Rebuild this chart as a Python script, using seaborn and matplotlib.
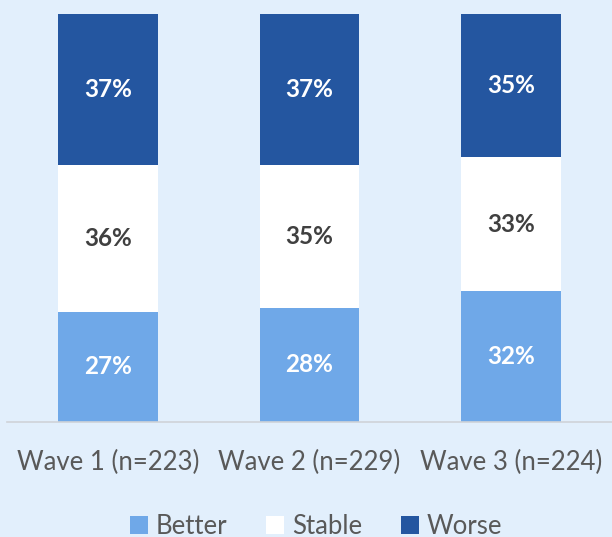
import matplotlib
matplotlib.use("Agg")
import matplotlib.pyplot as plt
import seaborn as sns
import numpy as np
import pandas as pd
from matplotlib.patches import Patch

categories = ["Wave 1 (n=223)", "Wave 2 (n=229)", "Wave 3 (n=224)"]
better = [27, 28, 32]
stable = [36, 35, 33]
worse = [37, 37, 35]
series_names = ["Better", "Stable", "Worse"]

BG = "#e2effc"
C_BETTER = "#6fa8e8"
C_STABLE = "#ffffff"
C_WORSE = "#2456a0"

sns.set_style("white")
plt.rcParams["font.family"] = ["Lato", "DejaVu Sans"]

fig = plt.figure(figsize=(6.12, 5.37), dpi=100, facecolor=BG)
ax = fig.add_axes([7/612, 115/537, 605/612, 408/537])
ax.set_facecolor(BG)

b = np.array(better)
s = np.array(stable)
w = np.array(worse)
df = pd.DataFrame({"cat": categories, "b": b, "bs": b + s, "bsw": b + s + w})

sns.barplot(data=df, x="cat", y="bsw", color=C_WORSE, width=0.495, saturation=1, ax=ax)
sns.barplot(data=df, x="cat", y="bs", color=C_STABLE, width=0.495, saturation=1, ax=ax)
sns.barplot(data=df, x="cat", y="b", color=C_BETTER, width=0.495, saturation=1, ax=ax)
for p in ax.patches:
    p.set_linewidth(0)

for i in range(len(categories)):
    ax.text(i, b[i] / 2, f"{b[i]}%", ha="center", va="center", color="white",
            fontsize=17.5, fontweight="bold")
    ax.text(i, b[i] + s[i] / 2, f"{s[i]}%", ha="center", va="center", color="#404040",
            fontsize=17.5, fontweight="bold")
    ax.text(i, b[i] + s[i] + w[i] / 2, f"{w[i]}%", ha="center", va="center", color="white",
            fontsize=17.5, fontweight="bold")

ax.set_xlim(-0.5, 2.5)
ax.set_ylim(0, 100)
ax.set_xlabel("")
ax.set_ylabel("")
ax.set_yticks([])
ax.tick_params(axis="x", length=0, pad=20, labelsize=18.5, labelcolor="#595959")
for sp in ["top", "right", "left"]:
    ax.spines[sp].set_visible(False)
ax.spines["bottom"].set_color("#cfd3d8")
ax.spines["bottom"].set_linewidth(1.2)

handles = [Patch(facecolor=C_BETTER, edgecolor="none"),
           Patch(facecolor=C_STABLE, edgecolor="none"),
           Patch(facecolor=C_WORSE, edgecolor="none")]
fig.legend(handles, series_names, loc="center", bbox_to_anchor=(316/612, 1 - 526/537),
           ncol=3, frameon=False, fontsize=18.5, labelcolor="#595959",
           handlelength=0.7, handleheight=0.7, handletextpad=0.3, columnspacing=1.5,
           borderpad=0)

fig.savefig("out.png", dpi=100, facecolor=BG)
